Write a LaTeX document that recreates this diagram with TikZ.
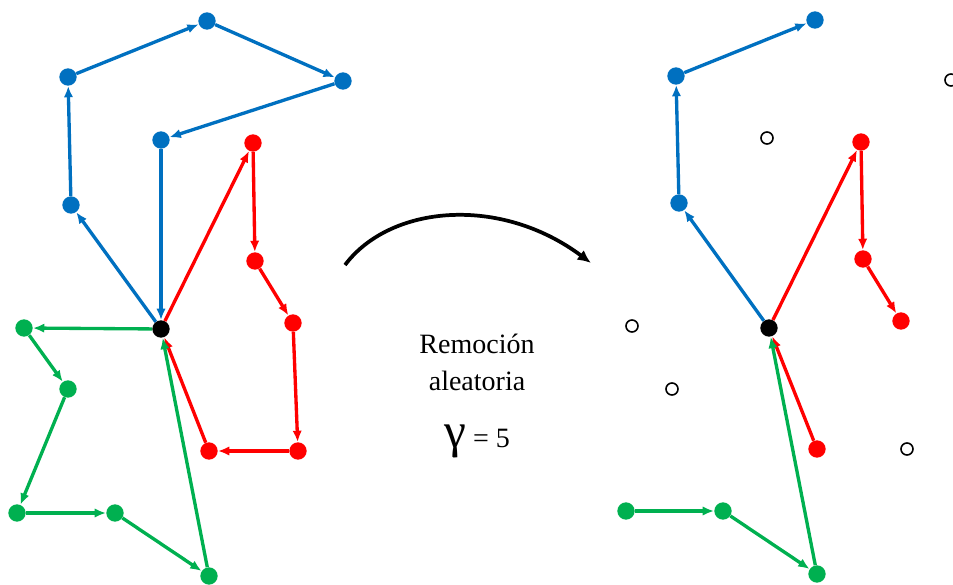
\documentclass[tikz,border=0pt]{standalone}
\usepackage{fontspec}
\setmainfont{Liberation Serif}
\newfontfamily\captionfont{Liberation Serif}
\usetikzlibrary{arrows.meta}

\definecolor{pathBlue}{HTML}{0070C0}
\definecolor{pathRed}{HTML}{FF0000}
\definecolor{pathGreen}{HTML}{00B050}
\providecommand{\nodesize}{13pt}
\providecommand{\holesize}{9pt}
\providecommand{\edgethickness}{2.5pt}
\providecommand{\arcthickness}{2.8pt}

\begin{document}
\begin{tikzpicture}[
    x=0.75pt, y=-0.75pt,
    % Node styles
    node_base/.style={
        circle,
        minimum size=\nodesize,
        inner sep=0pt
    },
    node_root/.style={node_base, fill=black},
    node_blue/.style={node_base, fill=pathBlue},
    node_red/.style={node_base, fill=pathRed},
    node_green/.style={node_base, fill=pathGreen},
    node_removed/.style={
        circle,
        draw=black,
        line width=1.2pt,
        minimum size=\holesize,
        inner sep=0pt
    },
    % Edge styles
    path_edge/.style={
        line width=\edgethickness,
        -{Latex[length=8.5pt, width=7pt]}
    },
    blue_edge/.style={path_edge, draw=pathBlue, fill=pathBlue},
    red_edge/.style={path_edge, draw=pathRed, fill=pathRed},
    green_edge/.style={path_edge, draw=pathGreen, fill=pathGreen},
    transition_arrow/.style={
        line width=\arcthickness,
        -{Latex[length=10pt, width=9pt]}
    },
    caption/.style={
        font=\captionfont\fontsize{21pt}{27.75pt}\selectfont,
        align=center
    }
]
    \useasboundingbox (0,0) rectangle (953,585);

    % ==================== LEFT GRAPH: three paths from the root ====================
    \node[node_root]  (lc)  at (161,329) {};

    % Blue path
    \node[node_blue]  (lb1) at (71,205)  {};
    \node[node_blue]  (lb2) at (68,77)   {};
    \node[node_blue]  (lb3) at (207,21)  {};
    \node[node_blue]  (lb4) at (343,81)  {};
    \node[node_blue]  (lb5) at (161,140) {};

    % Red path
    \node[node_red]   (lr1) at (253,143) {};
    \node[node_red]   (lr2) at (255,261) {};
    \node[node_red]   (lr3) at (293,323) {};
    \node[node_red]   (lr4) at (298,451) {};
    \node[node_red]   (lr5) at (209,451) {};

    % Green path
    \node[node_green] (lg1) at (24,328)  {};
    \node[node_green] (lg2) at (68,389)  {};
    \node[node_green] (lg3) at (17,513)  {};
    \node[node_green] (lg4) at (115,513) {};
    \node[node_green] (lg5) at (209,576) {};

    % Blue edges
    \draw[blue_edge] (lc)  -- (lb1);
    \draw[blue_edge] (lb1) -- (lb2);
    \draw[blue_edge] (lb2) -- (lb3);
    \draw[blue_edge] (lb3) -- (lb4);
    \draw[blue_edge] (lb4) -- (lb5);
    \draw[blue_edge] (lb5) -- (lc);

    % Red edges
    \draw[red_edge] (lc)  -- (lr1);
    \draw[red_edge] (lr1) -- (lr2);
    \draw[red_edge] (lr2) -- (lr3);
    \draw[red_edge] (lr3) -- (lr4);
    \draw[red_edge] (lr4) -- (lr5);
    \draw[red_edge] (lr5) -- (lc);

    % Green edges
    \draw[green_edge] (lc)  -- (lg1);
    \draw[green_edge] (lg1) -- (lg2);
    \draw[green_edge] (lg2) -- (lg3);
    \draw[green_edge] (lg3) -- (lg4);
    \draw[green_edge] (lg4) -- (lg5);
    \draw[green_edge] (lg5) -- (lc);


    % ==================== MIDDLE: transition arrow and caption ====================
    \coordinate (arc_start) at (345,265);
    \coordinate (arc_end)   at (591,263);
    \draw[transition_arrow] (arc_start) .. controls (390,205) and (500,195) .. (arc_end);

    \node[caption] (caption_text)  at (477,362) {Remoción\\aleatoria};
    \node[caption] (caption_gamma) at (477,441) {{\fontsize{37pt}{37pt}\selectfont γ} = 5};


    % ==================== RIGHT GRAPH: after removing 5 nodes ====================
    \node[node_root]  (rc)  at (769,328) {};

    % Surviving nodes
    \node[node_blue]  (rb1) at (679,203) {};
    \node[node_blue]  (rb2) at (676,76)  {};
    \node[node_blue]  (rb3) at (815,20)  {};
    \node[node_red]   (rr1) at (861,142) {};
    \node[node_red]   (rr2) at (863,259) {};
    \node[node_red]   (rr3) at (901,321) {};
    \node[node_red]   (rr5) at (817,449) {};
    \node[node_green] (rg3) at (626,511) {};
    \node[node_green] (rg4) at (723,511) {};
    \node[node_green] (rg5) at (817,574) {};

    % Removed nodes
    \node[node_removed] (rb4) at (951,80)  {};
    \node[node_removed] (rb5) at (767,138) {};
    \node[node_removed] (rr4) at (907,449) {};
    \node[node_removed] (rg1) at (632,326) {};
    \node[node_removed] (rg2) at (672,389) {};

    % Remaining edges
    \draw[blue_edge] (rc)  -- (rb1);
    \draw[blue_edge] (rb1) -- (rb2);
    \draw[blue_edge] (rb2) -- (rb3);

    \draw[red_edge] (rc)  -- (rr1);
    \draw[red_edge] (rr1) -- (rr2);
    \draw[red_edge] (rr2) -- (rr3);
    \draw[red_edge] (rr5) -- (rc);

    \draw[green_edge] (rg3) -- (rg4);
    \draw[green_edge] (rg4) -- (rg5);
    \draw[green_edge] (rg5) -- (rc);

\end{tikzpicture}
\end{document}
